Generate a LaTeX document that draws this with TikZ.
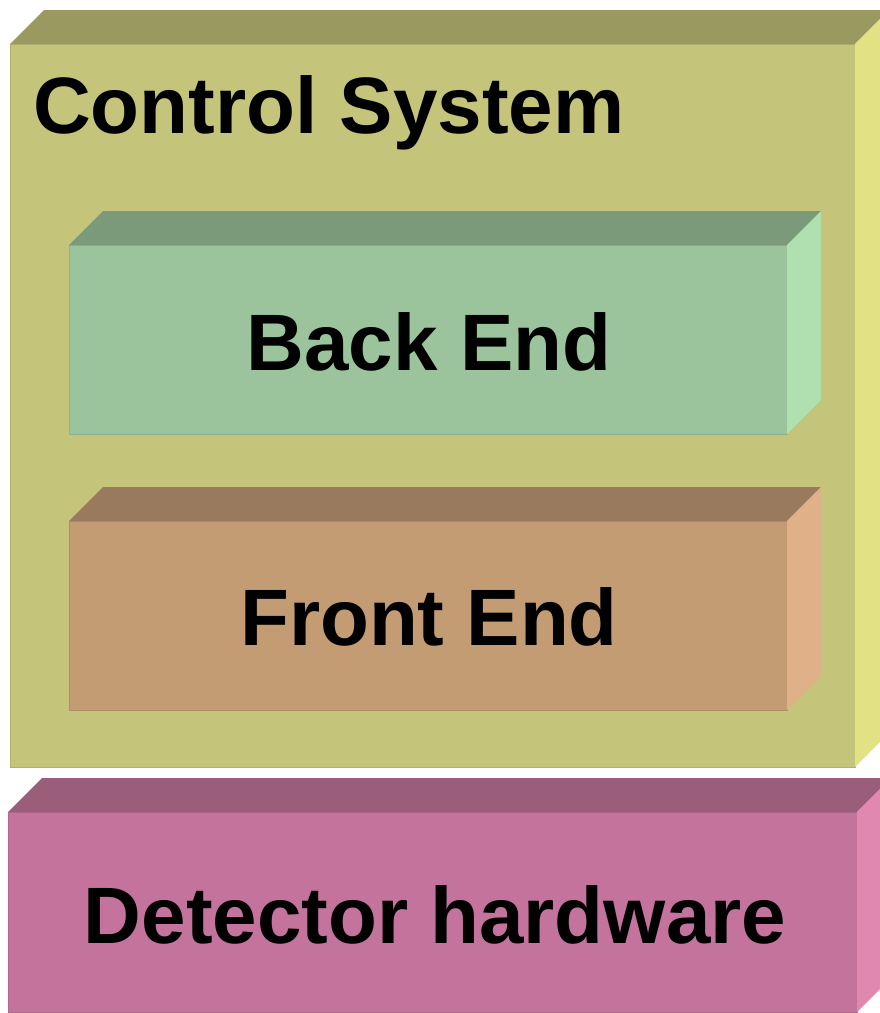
\documentclass[tikz,border=0pt]{standalone}
\usepackage{fontspec}
\setmainfont{Liberation Sans}
\definecolor{csFront}{HTML}{C4C47A}
\definecolor{csTop}{HTML}{9A9A60}
\definecolor{csSide}{HTML}{E2E285}
\definecolor{beFront}{HTML}{9CC49C}
\definecolor{beTop}{HTML}{7A9A7A}
\definecolor{beSide}{HTML}{B0E0B0}
\definecolor{feFront}{HTML}{C49C74}
\definecolor{feTop}{HTML}{9A7A5E}
\definecolor{feSide}{HTML}{E0B088}
\definecolor{dhFront}{HTML}{C4749C}
\definecolor{dhTop}{HTML}{9A5E7A}
\definecolor{dhSide}{HTML}{E088B0}
% a box drawn as a cuboid: front face node plus top and right faces
\newcommand{\cuboid}[8]{% name, x1, y1, x2, y2, front, top, side
  \node[face, fill=#6, draw=#6!90!black, anchor=north west,
        minimum width={(#4-#2)*1pt}, minimum height={(#5-#3)*1pt}] (#1) at (#2,#3) {};
  \fill[#7] (#1.north west) -- ++(34pt,34pt) -- ++({(#4-#2)*1pt},0) -- (#1.north east) -- cycle;
  \fill[#8] (#1.north east) -- ++(34pt,34pt) -- ++(0,{-(#5-#3)*1pt}) -- (#1.south east) -- cycle;
}
\begin{document}
\begin{tikzpicture}[x=1pt, y=-1pt,
  face/.style={inner sep=0pt, outer sep=0pt, line width=0.8pt},
  label/.style={font=\fontsize{80}{92}\selectfont\bfseries, inner sep=0pt, anchor=base}]
  \useasboundingbox (0,0) rectangle (880,1013);
  \clip (0,0) rectangle (880,1013);
  \cuboid{cs}{10}{44}{855}{767}{csFront}{csTop}{csSide}
  \cuboid{be}{69}{245}{787}{434}{beFront}{beTop}{beSide}
  \cuboid{fe}{69}{521}{787}{710}{feFront}{feTop}{feSide}
  \cuboid{dh}{8}{812}{857}{1012}{dhFront}{dhTop}{dhSide}
  \node[label, anchor=base west] (csText) at (33,133) {Control System};
  \node[label] (beText) at (429,370) {Back End};
  \node[label] (feText) at (429,645) {Front End};
  \node[label] (dhText) at (435,943) {Detector hardware};
\end{tikzpicture}
\end{document}
